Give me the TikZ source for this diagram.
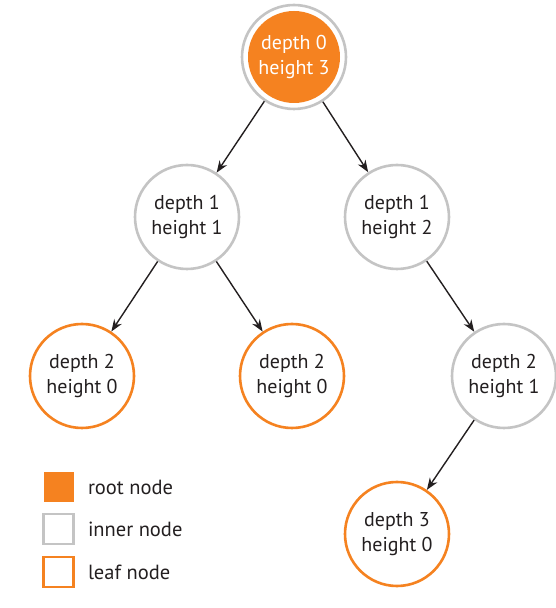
\documentclass[tikz,border=0pt]{standalone}
\usepackage{fontspec}
\setmainfont{PT Sans}
\usepackage{xcolor}
\usetikzlibrary{positioning,arrows.meta}
\definecolor{rootorange}{HTML}{F58220}
\definecolor{innergray}{HTML}{C4C4C4}
\definecolor{inkblack}{HTML}{231F20}
\begin{document}
\begin{tikzpicture}[x=1pt, y=1pt,
        tnode/.style={circle, minimum size=104pt, inner sep=0pt, line width=2.6pt, fill=white, align=center, text=inkblack, font=\fontsize{20}{25}\selectfont},
        inner/.style={tnode, draw=innergray},
        leaf/.style={tnode, draw=rootorange},
        root/.style={inner, text=white, path picture={\fill[rootorange] (path picture bounding box.center) circle (46pt);}},
        key/.style={rectangle, minimum size=30pt, inner sep=0pt, line width=2.6pt},
        keytext/.style={anchor=west, inner sep=0pt, text=inkblack, font=\fontsize{20.5}{22}\selectfont},
        edge/.style={->, line width=1.4pt, draw=inkblack},
        >={Stealth[length=12pt, width=9pt]}
    ]
        \useasboundingbox (0,0) rectangle (556,608);

        % tree
        \node [root] (d0) at (294,551) {depth 0\\height 3};
        \node [inner] (d1l) at (187,391) {depth 1\\height 1};
        \node [inner] (d1r) at (397,391) {depth 1\\height 2};
        \node [leaf] (d2l) at (82,232) {depth 2\\height 0};
        \node [leaf] (d2m) at (292,232) {depth 2\\height 0};
        \node [inner] (d2r) at (504,232) {depth 2\\height 1};
        \node [leaf] (d3) at (397,74) {depth 3\\height 0};

        \draw [edge] (d0) -- (d1l);
        \draw [edge] (d0) -- (d1r);
        \draw [edge] (d1l) -- (d2l);
        \draw [edge] (d1l) -- (d2m);
        \draw [edge] (d1r) -- (d2r);
        \draw [edge] (d2r) -- (d3);

        % legend
        \node [key, fill=rootorange] (kroot) at (58.5,121) {};
        \node [key, draw=innergray, fill=white] (kinner) at (58.5,79) {};
        \node [key, draw=rootorange, fill=white] (kleaf) at (58.5,36) {};
        \node [keytext, right=13pt of kroot] (troot) {root node};
        \node [keytext, right=13pt of kinner] (tinner) {inner node};
        \node [keytext, right=13pt of kleaf] (tleaf) {leaf node};
    \end{tikzpicture}
\end{document}
